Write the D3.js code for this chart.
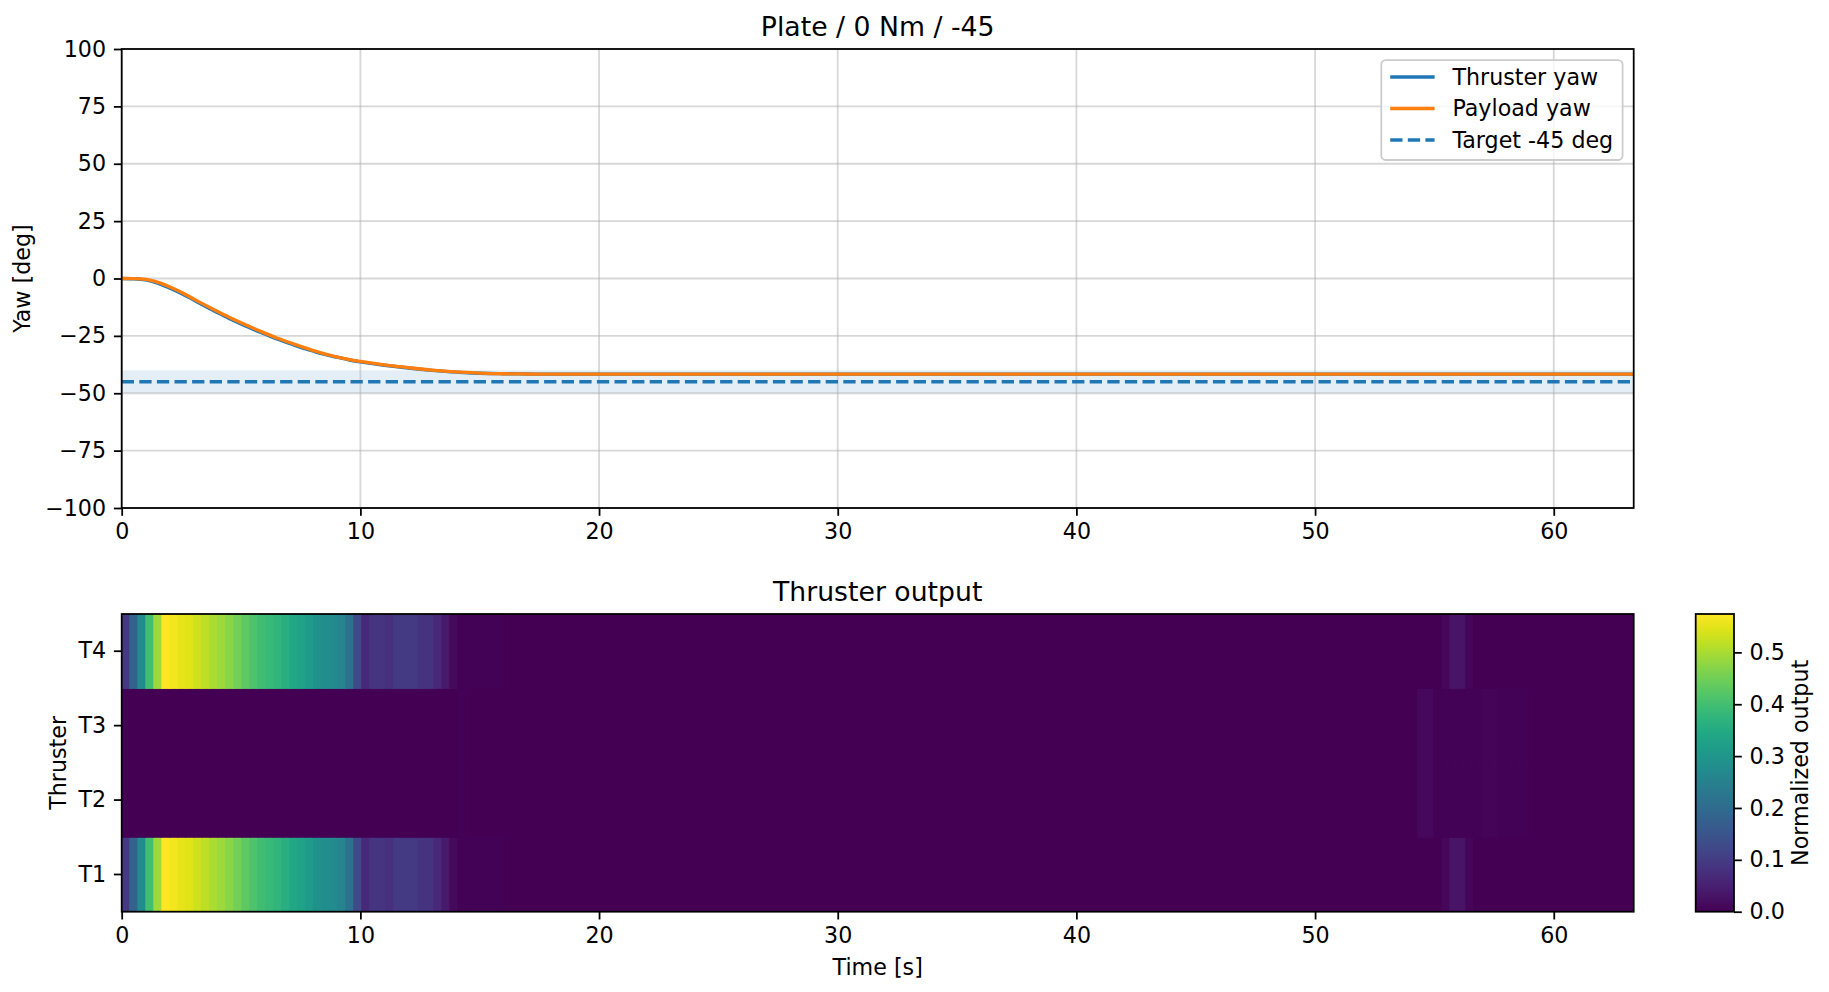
<!DOCTYPE html>
<html>
<head>
<meta charset="utf-8">
<script src="https://cdn.jsdelivr.net/npm/d3@7"></script>
<style>
  body { margin: 0; background: #fff; }
  svg { display: block; font-family: 'DejaVu Sans', sans-serif; }
</style>
</head>
<body>
<div id="chart"></div>
<script>
// --- Dados: yaw ---
const yawTime = [0, 0.5, 1, 1.5, 2, 2.5, 3, 3.5, 4, 4.5, 5, 5.5, 6, 6.5, 7, 7.5, 8, 8.5, 9, 9.5,
  10, 10.5, 11, 12, 13, 14, 15, 16, 17, 18, 20, 30, 40, 50, 63.35];
const thrusterYaw = [0, -0.1, -0.6, -2.0, -4.1, -6.5, -9.3, -12.1, -14.8, -17.4, -19.8, -22.1, -24.2, -26.3, -28.2, -30.0, -31.6, -33.1, -34.3, -35.4,
  -36.3, -37.1, -37.8, -39.0, -40.0, -40.8, -41.3, -41.5, -41.6, -41.7, -41.7, -41.7, -41.7, -41.7, -41.7];
const payloadYaw = [0, -0.05, -0.4, -1.6, -3.6, -6.0, -8.8, -11.6, -14.3, -16.9, -19.3, -21.6, -23.8, -25.9, -27.8, -29.6, -31.3, -32.8, -34.1, -35.2,
  -36.1, -36.9, -37.6, -38.8, -39.9, -40.7, -41.2, -41.5, -41.6, -41.7, -41.7, -41.7, -41.7, -41.7, -41.7];
const targetYaw = -45;
const targetBand = [-50, -40];
const yawTicks = [-100, -75, -50, -25, 0, 25, 50, 75, 100];
const timeTicks = [0, 10, 20, 30, 40, 50, 60];
const timeEnd = 63.35;

// --- Dados: saída dos propulsores (uma coluna por amostra, 0..timeEnd) ---
const thrusterNames = ['T1', 'T2', 'T3', 'T4'];
const outputT1 = [
  0.095, 0.18, 0.275, 0.40, 0.49, 0.574, 0.565, 0.553, 0.545, 0.53,
  0.517, 0.502, 0.487, 0.472, 0.452, 0.432, 0.413, 0.398, 0.387, 0.375,
  0.36, 0.342, 0.33, 0.316, 0.293, 0.281, 0.273, 0.261, 0.215, 0.129,
  0.063, 0.089, 0.089, 0.077, 0.098, 0.098, 0.098, 0.083, 0.083, 0.063,
  0.04, 0.014, 0.003, 0.003, 0.003, 0.003, 0.003, 0.003, 0, 0,
  0, 0, 0, 0, 0, 0, 0, 0, 0, 0,
  0, 0, 0, 0, 0, 0, 0, 0, 0, 0,
  0, 0, 0, 0, 0, 0, 0, 0, 0, 0,
  0, 0, 0, 0, 0, 0, 0, 0, 0, 0,
  0, 0, 0, 0, 0, 0, 0, 0, 0, 0,
  0, 0, 0, 0, 0, 0, 0, 0, 0, 0,
  0, 0, 0, 0, 0, 0, 0, 0, 0, 0,
  0, 0, 0, 0, 0, 0, 0, 0, 0, 0,
  0, 0, 0, 0, 0, 0, 0, 0, 0, 0,
  0, 0, 0, 0, 0, 0, 0, 0, 0, 0,
  0, 0, 0, 0, 0, 0, 0, 0, 0, 0,
  0, 0, 0, 0, 0, 0.01, 0.03, 0.03, 0.008, 0,
  0, 0, 0, 0, 0, 0, 0, 0, 0, 0,
  0, 0, 0, 0, 0, 0, 0, 0, 0
];
const outputT2 = [
  0, 0, 0, 0, 0, 0, 0, 0, 0, 0,
  0, 0, 0, 0, 0, 0, 0, 0, 0, 0,
  0, 0, 0, 0, 0, 0, 0, 0, 0, 0,
  0, 0, 0, 0, 0, 0, 0, 0, 0, 0,
  0, 0, 0.004, 0, 0, 0, 0, 0, 0, 0,
  0, 0, 0, 0, 0, 0, 0, 0, 0, 0,
  0, 0, 0, 0, 0, 0, 0, 0, 0, 0,
  0, 0, 0, 0, 0, 0, 0, 0, 0, 0,
  0, 0, 0, 0, 0, 0, 0, 0, 0, 0,
  0, 0, 0, 0, 0, 0, 0, 0, 0, 0,
  0, 0, 0, 0, 0, 0, 0, 0, 0, 0,
  0, 0, 0, 0, 0, 0, 0, 0, 0, 0,
  0, 0, 0, 0, 0, 0, 0, 0, 0, 0,
  0, 0, 0, 0, 0, 0, 0, 0, 0, 0,
  0, 0, 0, 0, 0, 0, 0, 0, 0, 0,
  0, 0, 0, 0, 0, 0, 0, 0, 0, 0,
  0, 0, 0.012, 0.012, 0.003, 0.003, 0.003, 0.003, 0.003, 0.003,
  0.006, 0.006, 0.003, 0.003, 0.003, 0.003, 0, 0, 0, 0,
  0, 0, 0, 0, 0, 0, 0, 0, 0
];
const outputT3 = [
  0, 0, 0, 0, 0, 0, 0, 0, 0, 0,
  0, 0, 0, 0, 0, 0, 0, 0, 0, 0,
  0, 0, 0, 0, 0, 0, 0, 0, 0, 0,
  0, 0, 0, 0, 0, 0, 0, 0, 0, 0,
  0, 0, 0.004, 0, 0, 0, 0, 0, 0, 0,
  0, 0, 0, 0, 0, 0, 0, 0, 0, 0,
  0, 0, 0, 0, 0, 0, 0, 0, 0, 0,
  0, 0, 0, 0, 0, 0, 0, 0, 0, 0,
  0, 0, 0, 0, 0, 0, 0, 0, 0, 0,
  0, 0, 0, 0, 0, 0, 0, 0, 0, 0,
  0, 0, 0, 0, 0, 0, 0, 0, 0, 0,
  0, 0, 0, 0, 0, 0, 0, 0, 0, 0,
  0, 0, 0, 0, 0, 0, 0, 0, 0, 0,
  0, 0, 0, 0, 0, 0, 0, 0, 0, 0,
  0, 0, 0, 0, 0, 0, 0, 0, 0, 0,
  0, 0, 0, 0, 0, 0, 0, 0, 0, 0,
  0, 0, 0.012, 0.012, 0.003, 0.003, 0.003, 0.003, 0.003, 0.003,
  0.006, 0.006, 0.003, 0.003, 0.003, 0.003, 0, 0, 0, 0,
  0, 0, 0, 0, 0, 0, 0, 0, 0
];
const outputT4 = [
  0.095, 0.18, 0.275, 0.40, 0.49, 0.574, 0.565, 0.553, 0.545, 0.53,
  0.517, 0.502, 0.487, 0.472, 0.452, 0.432, 0.413, 0.398, 0.387, 0.375,
  0.36, 0.342, 0.33, 0.316, 0.293, 0.281, 0.273, 0.261, 0.215, 0.129,
  0.063, 0.089, 0.089, 0.077, 0.098, 0.098, 0.098, 0.083, 0.083, 0.063,
  0.04, 0.014, 0.003, 0.003, 0.003, 0.003, 0.003, 0.003, 0, 0,
  0, 0, 0, 0, 0, 0, 0, 0, 0, 0,
  0, 0, 0, 0, 0, 0, 0, 0, 0, 0,
  0, 0, 0, 0, 0, 0, 0, 0, 0, 0,
  0, 0, 0, 0, 0, 0, 0, 0, 0, 0,
  0, 0, 0, 0, 0, 0, 0, 0, 0, 0,
  0, 0, 0, 0, 0, 0, 0, 0, 0, 0,
  0, 0, 0, 0, 0, 0, 0, 0, 0, 0,
  0, 0, 0, 0, 0, 0, 0, 0, 0, 0,
  0, 0, 0, 0, 0, 0, 0, 0, 0, 0,
  0, 0, 0, 0, 0, 0, 0, 0, 0, 0,
  0, 0, 0, 0, 0, 0, 0, 0, 0, 0,
  0, 0, 0, 0, 0, 0.01, 0.03, 0.03, 0.008, 0,
  0, 0, 0, 0, 0, 0, 0, 0, 0, 0,
  0, 0, 0, 0, 0, 0, 0, 0, 0
];
const outputMax = 0.574;
const outputTicks = [0, 0.1, 0.2, 0.3, 0.4, 0.5];

// --- Layout ---
const W = 1829, H = 992;
const left = 121.7, right = 1633.7;
const top1 = 49, bottom1 = 508;
const top2 = 614, bottom2 = 911.7;
const cbLeft = 1695.7, cbRight = 1734;
const fs = 22.2, titleFs = 26.7, lw = 1.78, tickLen = 7.8;
const blue = '#1f77b4', orange = '#ff7f0e';

const svg = d3.select('#chart')
  .append('svg')
  .attr('width', W)
  .attr('height', H);

svg.append('rect').attr('width', W).attr('height', H).attr('fill', '#fff');
const defs = svg.append('defs');

const x1 = d3.scaleLinear().domain([0, timeEnd]).range([left, right]);
const y1 = d3.scaleLinear().domain([-100, 100]).range([bottom1, top1]);

function styleAxis(g) {
  g.select('.domain').remove();
  g.selectAll('.tick line').attr('stroke', '#000').attr('stroke-width', lw);
  g.selectAll('.tick text').attr('fill', '#000').attr('font-size', fs)
    .attr('font-family', "'DejaVu Sans', sans-serif");
}

const minusFmt = d => (d < 0 ? '\u2212' + Math.abs(d) : String(d));

// --- Painel superior: yaw ---
defs.append('clipPath').attr('id', 'clip1')
  .append('rect').attr('x', left).attr('y', top1)
  .attr('width', right - left).attr('height', bottom1 - top1);

// faixa de tolerância
svg.append('rect')
  .attr('x', left).attr('width', right - left)
  .attr('y', y1(targetBand[1])).attr('height', y1(targetBand[0]) - y1(targetBand[1]))
  .attr('fill', blue).attr('opacity', 0.12);

// grade
const grid = svg.append('g').attr('stroke', '#b0b0b0').attr('stroke-opacity', 0.5).attr('stroke-width', lw);
grid.selectAll('.gy').data(yawTicks).enter().append('line')
  .attr('x1', left).attr('x2', right)
  .attr('y1', d => y1(d)).attr('y2', d => y1(d));
grid.selectAll('.gx').data(timeTicks).enter().append('line')
  .attr('y1', top1).attr('y2', bottom1)
  .attr('x1', d => x1(d)).attr('x2', d => x1(d));

const yawLine = series => d3.line()
  .x((d, i) => x1(yawTime[i]))
  .y(d => y1(d))
  .curve(d3.curveMonotoneX)(series);

const lines = svg.append('g').attr('clip-path', 'url(#clip1)');
lines.append('path').attr('d', yawLine(thrusterYaw))
  .attr('fill', 'none').attr('stroke', blue).attr('stroke-width', 3.33);
lines.append('path').attr('d', yawLine(payloadYaw))
  .attr('fill', 'none').attr('stroke', orange).attr('stroke-width', 3.33);
lines.append('line')
  .attr('x1', left).attr('x2', right)
  .attr('y1', y1(targetYaw)).attr('y2', y1(targetYaw))
  .attr('stroke', blue).attr('stroke-width', 3.33).attr('stroke-dasharray', '12.3,5.3');

svg.append('g').attr('transform', `translate(0,${bottom1})`)
  .call(d3.axisBottom(x1).tickValues(timeTicks).tickSize(tickLen).tickPadding(tickLen).tickFormat(d3.format('d')))
  .call(styleAxis);
svg.append('g').attr('transform', `translate(${left},0)`)
  .call(d3.axisLeft(y1).tickValues(yawTicks).tickSize(tickLen).tickPadding(tickLen).tickFormat(minusFmt))
  .call(styleAxis);

svg.append('rect')
  .attr('x', left).attr('y', top1).attr('width', right - left).attr('height', bottom1 - top1)
  .attr('fill', 'none').attr('stroke', '#000').attr('stroke-width', lw);

svg.append('text').attr('x', (left + right) / 2).attr('y', 35.7)
  .attr('text-anchor', 'middle').attr('font-size', titleFs).text('Plate / 0 Nm / -45');
svg.append('text').attr('transform', `translate(29.5,${(top1 + bottom1) / 2}) rotate(-90)`)
  .attr('text-anchor', 'middle').attr('font-size', fs).text('Yaw [deg]');

// legenda
const legendItems = [
  { label: 'Thruster yaw', color: blue, dash: null },
  { label: 'Payload yaw', color: orange, dash: null },
  { label: 'Target -45 deg', color: blue, dash: '12.3,5.3' }
];
const legend = svg.append('g');
legend.append('rect')
  .attr('x', 1381.3).attr('y', 60.1).attr('width', 241.3).attr('height', 99.9)
  .attr('rx', 4.4).attr('fill', '#fff').attr('fill-opacity', 0.8)
  .attr('stroke', '#cccccc').attr('stroke-width', lw);
legendItems.forEach((d, i) => {
  const cy = 77 + i * 31.5;
  legend.append('line')
    .attr('x1', 1390.2).attr('x2', 1434.6).attr('y1', cy).attr('y2', cy)
    .attr('stroke', d.color).attr('stroke-width', 3.33)
    .attr('stroke-dasharray', d.dash);
  legend.append('text')
    .attr('x', 1452.4).attr('y', cy).attr('dy', '0.36em')
    .attr('font-size', fs).text(d.label);
});

// --- Painel inferior: mapa de calor ---
const x2 = d3.scaleLinear().domain([0, timeEnd]).range([left, right]);
const y2 = d3.scaleBand().domain(['T4', 'T3', 'T2', 'T1']).range([top2, bottom2]);
const color = d3.scaleSequential(d3.interpolateViridis).domain([0, outputMax]);

const rows = [outputT1, outputT2, outputT3, outputT4];
const nCols = outputT1.length;
const dt = timeEnd / nCols;

defs.append('clipPath').attr('id', 'clip2')
  .append('rect').attr('x', left).attr('y', top2)
  .attr('width', right - left).attr('height', bottom2 - top2);

// cada célula sobrepõe um pouco a vizinha para evitar frestas
const heat = svg.append('g').attr('clip-path', 'url(#clip2)');
rows.forEach((vals, r) => {
  heat.selectAll(null).data(vals).enter().append('rect')
    .attr('x', (d, k) => x2(k * dt) - 0.4)
    .attr('width', (d, k) => x2((k + 1) * dt) - x2(k * dt) + 0.8)
    .attr('y', y2(thrusterNames[r]) - 0.5)
    .attr('height', y2.bandwidth() + 1)
    .attr('fill', d => color(d));
});

svg.append('g').attr('transform', `translate(0,${bottom2})`)
  .call(d3.axisBottom(x2).tickValues(timeTicks).tickSize(tickLen).tickPadding(tickLen).tickFormat(d3.format('d')))
  .call(styleAxis);
svg.append('g').attr('transform', `translate(${left},0)`)
  .call(d3.axisLeft(y2).tickSize(tickLen).tickPadding(tickLen))
  .call(styleAxis);

svg.append('rect')
  .attr('x', left).attr('y', top2).attr('width', right - left).attr('height', bottom2 - top2)
  .attr('fill', 'none').attr('stroke', '#000').attr('stroke-width', lw);

svg.append('text').attr('x', (left + right) / 2).attr('y', 600.7)
  .attr('text-anchor', 'middle').attr('font-size', titleFs).text('Thruster output');
svg.append('text').attr('x', (left + right) / 2).attr('y', 975)
  .attr('text-anchor', 'middle').attr('font-size', fs).text('Time [s]');
svg.append('text').attr('transform', `translate(66,${(top2 + bottom2) / 2}) rotate(-90)`)
  .attr('text-anchor', 'middle').attr('font-size', fs).text('Thruster');

// --- Barra de cores ---
const grad = defs.append('linearGradient')
  .attr('id', 'cbGrad').attr('x1', 0).attr('y1', 1).attr('x2', 0).attr('y2', 0);
d3.range(0, 1.0001, 0.05).forEach(p => {
  grad.append('stop').attr('offset', p).attr('stop-color', d3.interpolateViridis(p));
});
svg.append('rect')
  .attr('x', cbLeft).attr('y', top2).attr('width', cbRight - cbLeft).attr('height', bottom2 - top2)
  .attr('fill', 'url(#cbGrad)').attr('stroke', '#000').attr('stroke-width', lw);

const yc = d3.scaleLinear().domain([0, outputMax]).range([bottom2, top2]);
svg.append('g').attr('transform', `translate(${cbRight},0)`)
  .call(d3.axisRight(yc).tickValues(outputTicks).tickSize(tickLen).tickPadding(tickLen).tickFormat(d3.format('.1f')))
  .call(styleAxis);
svg.append('text').attr('transform', `translate(1808,${(top2 + bottom2) / 2}) rotate(-90)`)
  .attr('text-anchor', 'middle').attr('font-size', fs).text('Normalized output');
</script>
</body>
</html>
